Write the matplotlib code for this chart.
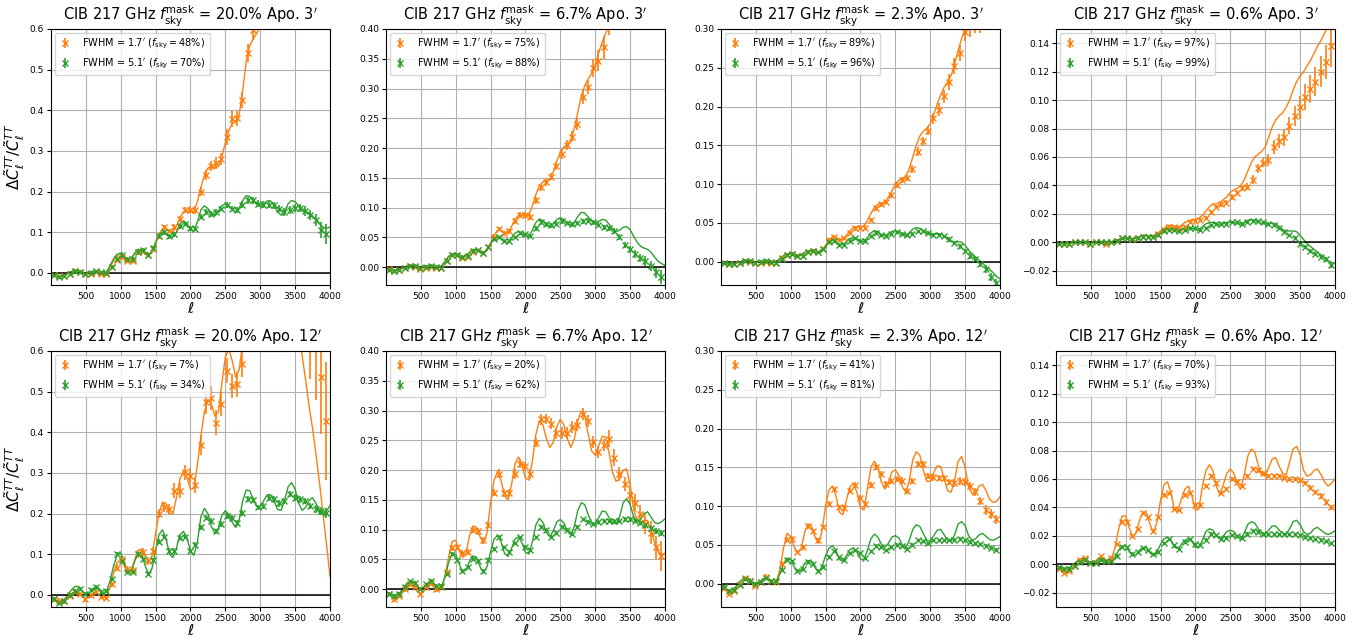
import matplotlib
matplotlib.use("Agg")
import matplotlib.pyplot as plt
import numpy as np

nan = np.nan

# bin centres of the measured points and the sampling of the model curves
ELL_BIN = [45, 120, 195, 270, 345, 420, 495, 570, 645, 720,
           795, 870, 945, 1020, 1095, 1170, 1245, 1320, 1395, 1470,
           1545, 1620, 1695, 1770, 1845, 1920, 1995, 2070, 2145, 2220,
           2295, 2370, 2445, 2520, 2595, 2670, 2745, 2820, 2895, 2970,
           3045, 3120, 3195, 3270, 3345, 3420, 3495, 3570, 3645, 3720,
           3795, 3870, 3945]
ELL_LINE = [0, 50, 100, 150, 200, 250, 300, 350, 400, 450,
            500, 550, 600, 650, 700, 750, 800, 850, 900, 950,
            1000, 1050, 1100, 1150, 1200, 1250, 1300, 1350, 1400, 1450,
            1500, 1550, 1600, 1650, 1700, 1750, 1800, 1850, 1900, 1950,
            2000, 2050, 2100, 2150, 2200, 2250, 2300, 2350, 2400, 2450,
            2500, 2550, 2600, 2650, 2700, 2750, 2800, 2850, 2900, 2950,
            3000, 3050, 3100, 3150, 3200, 3250, 3300, 3350, 3400, 3450,
            3500, 3550, 3600, 3650, 3700, 3750, 3800, 3850, 3900, 3950,
            4000]

MASK_FSKY = ["20.0", "6.7", "2.3", "0.6"]
APO = [3, 12]
FSKY_17 = [[48, 75, 89, 97], [7, 20, 41, 70]]
FSKY_51 = [[70, 88, 96, 99], [34, 62, 81, 93]]
YMAX = [0.6, 0.4, 0.3, 0.15]
YTICKS = [[0.0, 0.1, 0.2, 0.3, 0.4, 0.5, 0.6],
          [0.0, 0.05, 0.1, 0.15, 0.2, 0.25, 0.3, 0.35, 0.4],
          [0.0, 0.05, 0.1, 0.15, 0.2, 0.25, 0.3],
          [-0.02, 0.0, 0.02, 0.04, 0.06, 0.08, 0.1, 0.12, 0.14]]

# ---------------- Apo. 3' , fsky mask 20.0% ----------------
P1_OR_PTS = [-0.005, -0.009, -0.007, -0.002, 0.004, 0.002, -0.004, -0.002, 0.002, -0.002,
             -0.002, 0.015, 0.032, 0.038, 0.030, 0.030, 0.050, 0.053, 0.045, 0.058,
             0.090, 0.112, 0.103, 0.113, 0.133, 0.155, 0.155, 0.155, 0.200, 0.240,
             0.263, 0.270, 0.280, 0.335, 0.378, 0.380, 0.425, 0.540, 0.598, nan,
             nan, nan, nan, nan, nan, nan, nan, nan, nan, nan,
             nan, nan, nan]
P1_OR_ERR = [0.004, 0.004, 0.004, 0.004, 0.004, 0.004, 0.004, 0.004, 0.004, 0.004,
             0.004, 0.004, 0.005, 0.005, 0.005, 0.005, 0.005, 0.005, 0.005, 0.006,
             0.006, 0.006, 0.006, 0.007, 0.008, 0.008, 0.009, 0.010, 0.010, 0.012,
             0.012, 0.014, 0.015, 0.020, 0.020, 0.018, 0.020, 0.022, 0.025, 0.030,
             0.030, 0.030, 0.030, 0.030, 0.030, 0.030, 0.030, 0.030, 0.030, 0.030,
             0.030, 0.030, 0.030]
P1_OR_LINE = [-0.005, -0.007, -0.010, -0.008, -0.005, 0.000, 0.003, 0.005, 0.003, 0.000,
              -0.003, -0.002, 0.002, 0.003, 0.000, -0.003, 0.002, 0.015, 0.030, 0.042,
              0.040, 0.032, 0.028, 0.035, 0.048, 0.055, 0.053, 0.045, 0.043, 0.050,
              0.070, 0.095, 0.108, 0.110, 0.100, 0.100, 0.115, 0.135, 0.150, 0.152,
              0.150, 0.152, 0.175, 0.210, 0.240, 0.258, 0.262, 0.258, 0.262, 0.285,
              0.320, 0.350, 0.368, 0.370, 0.390, 0.450, 0.520, 0.560, 0.575, 0.590,
              0.605, 0.640, nan, nan, nan, nan, nan, nan, nan, nan,
              nan, nan, nan, nan, nan, nan, nan, nan, nan, nan,
              nan]
P1_GR_PTS = [-0.005, -0.010, -0.009, -0.002, 0.005, 0.003, -0.002, 0.000, 0.004, 0.001,
             -0.001, 0.015, 0.035, 0.045, 0.035, 0.033, 0.050, 0.057, 0.045, 0.060,
             0.090, 0.100, 0.090, 0.095, 0.115, 0.120, 0.110, 0.108, 0.138, 0.150,
             0.145, 0.150, 0.158, 0.167, 0.158, 0.155, 0.168, 0.178, 0.178, 0.170,
             0.168, 0.168, 0.166, 0.158, 0.150, 0.155, 0.160, 0.160, 0.152, 0.142,
             0.130, 0.105, 0.095]
P1_GR_ERR = [0.004, 0.004, 0.004, 0.004, 0.004, 0.004, 0.004, 0.004, 0.004, 0.004,
             0.004, 0.004, 0.004, 0.005, 0.005, 0.005, 0.005, 0.005, 0.005, 0.005,
             0.005, 0.006, 0.006, 0.006, 0.006, 0.006, 0.006, 0.006, 0.006, 0.007,
             0.007, 0.007, 0.007, 0.007, 0.007, 0.008, 0.008, 0.008, 0.008, 0.008,
             0.008, 0.008, 0.009, 0.009, 0.010, 0.010, 0.010, 0.010, 0.012, 0.012,
             0.015, 0.020, 0.025]
P1_GR_LINE = [-0.005, -0.008, -0.010, -0.010, -0.006, 0.000, 0.004, 0.006, 0.004, 0.000,
              -0.002, 0.000, 0.004, 0.004, 0.000, -0.002, 0.003, 0.018, 0.035, 0.046,
              0.047, 0.038, 0.029, 0.033, 0.048, 0.058, 0.056, 0.047, 0.042, 0.052,
              0.075, 0.095, 0.100, 0.095, 0.087, 0.088, 0.100, 0.120, 0.128, 0.122,
              0.105, 0.103, 0.125, 0.155, 0.165, 0.158, 0.145, 0.140, 0.150, 0.165,
              0.170, 0.165, 0.155, 0.150, 0.160, 0.178, 0.190, 0.188, 0.178, 0.168,
              0.165, 0.170, 0.177, 0.177, 0.165, 0.150, 0.142, 0.150, 0.170, 0.178,
              0.175, 0.165, 0.152, 0.150, 0.148, 0.140, 0.130, 0.120, 0.112, 0.110,
              0.112]

# ---------------- Apo. 3' , fsky mask 6.7% ----------------
P2_OR_PTS = [-0.003, -0.006, -0.005, -0.002, 0.002, 0.001, -0.003, -0.001, 0.001, -0.002,
             -0.002, 0.010, 0.020, 0.020, 0.016, 0.017, 0.026, 0.028, 0.024, 0.034,
             0.051, 0.064, 0.057, 0.060, 0.077, 0.087, 0.088, 0.085, 0.112, 0.134,
             0.143, 0.152, 0.170, 0.190, 0.205, 0.219, 0.241, 0.286, 0.302, 0.334,
             0.347, 0.369, 0.420, nan, nan, nan, nan, nan, nan, nan,
             nan, nan, nan]
P2_OR_ERR = [0.003, 0.003, 0.003, 0.003, 0.003, 0.003, 0.003, 0.003, 0.003, 0.003,
             0.003, 0.003, 0.003, 0.003, 0.003, 0.003, 0.003, 0.003, 0.003, 0.004,
             0.004, 0.004, 0.004, 0.004, 0.005, 0.005, 0.005, 0.005, 0.006, 0.006,
             0.006, 0.006, 0.007, 0.008, 0.008, 0.009, 0.010, 0.012, 0.012, 0.015,
             0.018, 0.020, 0.030, 0.030, 0.030, 0.030, 0.030, 0.030, 0.030, 0.030,
             0.030, 0.030, 0.030]
P2_OR_LINE = [-0.003, -0.004, -0.006, -0.006, -0.004, -0.001, 0.001, 0.002, 0.001, -0.001,
              -0.002, -0.001, 0.001, 0.001, -0.001, -0.002, 0.002, 0.010, 0.018, 0.021,
              0.020, 0.017, 0.016, 0.019, 0.025, 0.029, 0.029, 0.026, 0.025, 0.029,
              0.040, 0.053, 0.062, 0.062, 0.057, 0.059, 0.068, 0.080, 0.087, 0.088,
              0.086, 0.088, 0.103, 0.122, 0.137, 0.143, 0.145, 0.148, 0.160, 0.178,
              0.193, 0.202, 0.206, 0.213, 0.233, 0.260, 0.287, 0.305, 0.316, 0.326,
              0.340, 0.360, 0.378, 0.393, 0.405, nan, nan, nan, nan, nan,
              nan, nan, nan, nan, nan, nan, nan, nan, nan, nan,
              nan]
P2_GR_PTS = [-0.004, -0.006, -0.005, -0.002, 0.002, 0.002, -0.002, 0.000, 0.002, 0.000,
             -0.001, 0.010, 0.020, 0.021, 0.017, 0.018, 0.027, 0.028, 0.024, 0.033,
             0.048, 0.050, 0.044, 0.044, 0.050, 0.058, 0.055, 0.053, 0.065, 0.075,
             0.072, 0.070, 0.073, 0.077, 0.074, 0.072, 0.074, 0.077, 0.078, 0.075,
             0.071, 0.067, 0.065, 0.060, 0.050, 0.037, 0.030, 0.022, 0.015, 0.010,
             0.002, -0.009, -0.017]
P2_GR_ERR = [0.003, 0.003, 0.003, 0.003, 0.003, 0.003, 0.003, 0.003, 0.003, 0.003,
             0.003, 0.003, 0.003, 0.003, 0.003, 0.003, 0.003, 0.003, 0.003, 0.003,
             0.003, 0.003, 0.003, 0.003, 0.003, 0.003, 0.003, 0.003, 0.004, 0.004,
             0.004, 0.004, 0.004, 0.004, 0.004, 0.004, 0.004, 0.004, 0.004, 0.004,
             0.004, 0.004, 0.004, 0.005, 0.005, 0.005, 0.006, 0.006, 0.007, 0.008,
             0.008, 0.010, 0.012]
P2_GR_LINE = [-0.003, -0.005, -0.006, -0.006, -0.004, -0.001, 0.002, 0.003, 0.002, 0.000,
              -0.001, 0.000, 0.002, 0.002, 0.000, -0.001, 0.002, 0.010, 0.018, 0.022,
              0.021, 0.017, 0.015, 0.018, 0.025, 0.030, 0.029, 0.025, 0.023, 0.028,
              0.040, 0.050, 0.052, 0.048, 0.042, 0.042, 0.049, 0.057, 0.060, 0.057,
              0.052, 0.052, 0.062, 0.075, 0.081, 0.078, 0.072, 0.069, 0.073, 0.080,
              0.083, 0.080, 0.074, 0.071, 0.075, 0.085, 0.092, 0.091, 0.084, 0.077,
              0.075, 0.077, 0.080, 0.079, 0.072, 0.064, 0.060, 0.062, 0.067, 0.068,
              0.063, 0.052, 0.042, 0.035, 0.032, 0.030, 0.025, 0.017, 0.010, 0.006,
              0.003]

# ---------------- Apo. 3' , fsky mask 2.3% ----------------
P3_OR_PTS = [-0.002, -0.003, -0.003, -0.001, 0.001, 0.000, -0.001, -0.001, 0.000, -0.001,
             -0.001, 0.005, 0.009, 0.010, 0.008, 0.008, 0.012, 0.014, 0.012, 0.017,
             0.028, 0.032, 0.028, 0.030, 0.037, 0.043, 0.044, 0.044, 0.054, 0.069,
             0.074, 0.077, 0.086, 0.099, 0.105, 0.108, 0.120, 0.142, 0.155, 0.169,
             0.185, 0.196, 0.213, 0.232, 0.252, 0.269, 0.296, 0.310, 0.320, 0.325,
             nan, nan, nan]
P3_OR_ERR = [0.002, 0.002, 0.002, 0.002, 0.002, 0.002, 0.002, 0.002, 0.002, 0.002,
             0.002, 0.002, 0.002, 0.002, 0.002, 0.002, 0.002, 0.002, 0.002, 0.002,
             0.002, 0.002, 0.002, 0.002, 0.002, 0.003, 0.003, 0.003, 0.003, 0.003,
             0.003, 0.003, 0.004, 0.004, 0.004, 0.004, 0.005, 0.006, 0.006, 0.006,
             0.007, 0.008, 0.009, 0.010, 0.010, 0.010, 0.012, 0.020, 0.025, 0.030,
             0.030, 0.030, 0.030]
P3_OR_LINE = [-0.002, -0.002, -0.003, -0.003, -0.002, -0.001, 0.000, 0.001, 0.000, -0.001,
              -0.001, -0.001, 0.000, 0.000, -0.001, -0.001, 0.001, 0.004, 0.008, 0.010,
              0.010, 0.008, 0.007, 0.009, 0.012, 0.014, 0.014, 0.013, 0.012, 0.015,
              0.021, 0.028, 0.032, 0.031, 0.028, 0.029, 0.034, 0.040, 0.044, 0.045,
              0.044, 0.046, 0.053, 0.062, 0.070, 0.074, 0.075, 0.077, 0.083, 0.091,
              0.100, 0.105, 0.107, 0.110, 0.120, 0.135, 0.150, 0.162, 0.168, 0.172,
              0.178, 0.190, 0.203, 0.215, 0.225, 0.232, 0.240, 0.255, 0.272, 0.288,
              0.300, 0.312, nan, nan, nan, nan, nan, nan, nan, nan,
              nan]
P3_GR_PTS = [-0.002, -0.003, -0.003, -0.001, 0.001, 0.001, -0.001, 0.000, 0.001, 0.000,
             -0.001, 0.004, 0.009, 0.010, 0.008, 0.008, 0.012, 0.014, 0.012, 0.016,
             0.025, 0.027, 0.022, 0.022, 0.027, 0.030, 0.027, 0.027, 0.033, 0.037,
             0.034, 0.033, 0.036, 0.038, 0.036, 0.034, 0.036, 0.039, 0.039, 0.037,
             0.035, 0.035, 0.033, 0.029, 0.024, 0.020, 0.014, 0.008, 0.003, -0.003,
             -0.009, -0.020, -0.028]
P3_GR_ERR = [0.002, 0.002, 0.002, 0.002, 0.002, 0.002, 0.002, 0.002, 0.002, 0.002,
             0.002, 0.002, 0.002, 0.002, 0.002, 0.002, 0.002, 0.002, 0.002, 0.002,
             0.002, 0.002, 0.002, 0.002, 0.002, 0.002, 0.002, 0.002, 0.002, 0.002,
             0.002, 0.002, 0.002, 0.002, 0.002, 0.002, 0.002, 0.002, 0.002, 0.002,
             0.002, 0.002, 0.002, 0.003, 0.003, 0.003, 0.003, 0.004, 0.004, 0.004,
             0.005, 0.005, 0.006]
P3_GR_LINE = [-0.002, -0.002, -0.003, -0.003, -0.002, -0.001, 0.001, 0.001, 0.001, 0.000,
              -0.001, 0.000, 0.001, 0.001, 0.000, -0.001, 0.001, 0.004, 0.008, 0.010,
              0.010, 0.008, 0.007, 0.008, 0.012, 0.014, 0.014, 0.012, 0.011, 0.014,
              0.020, 0.026, 0.028, 0.026, 0.022, 0.022, 0.026, 0.030, 0.031, 0.029,
              0.026, 0.026, 0.031, 0.037, 0.040, 0.039, 0.035, 0.034, 0.036, 0.039,
              0.040, 0.039, 0.036, 0.034, 0.037, 0.042, 0.044, 0.043, 0.040, 0.036,
              0.035, 0.035, 0.036, 0.036, 0.033, 0.029, 0.026, 0.025, 0.026, 0.025,
              0.021, 0.015, 0.010, 0.006, 0.002, -0.002, -0.006, -0.010, -0.014, -0.019,
              -0.022]

# ---------------- Apo. 3' , fsky mask 0.6% ----------------
P4_OR_PTS = [-0.001, -0.001, -0.001, 0.000, 0.000, 0.000, -0.001, 0.000, 0.000, -0.001,
             0.000, 0.001, 0.003, 0.003, 0.002, 0.003, 0.004, 0.004, 0.004, 0.006,
             0.009, 0.011, 0.011, 0.010, 0.011, 0.014, 0.015, 0.016, 0.017, 0.021,
             0.025, 0.027, 0.028, 0.032, 0.035, 0.038, 0.039, 0.044, 0.052, 0.056,
             0.058, 0.067, 0.071, 0.074, 0.082, 0.089, 0.095, 0.102, 0.108, 0.113,
             0.120, 0.127, 0.138]
P4_OR_ERR = [0.001, 0.001, 0.001, 0.001, 0.001, 0.001, 0.001, 0.001, 0.001, 0.001,
             0.001, 0.001, 0.001, 0.001, 0.001, 0.001, 0.001, 0.001, 0.001, 0.001,
             0.001, 0.001, 0.001, 0.001, 0.001, 0.001, 0.0015, 0.0015, 0.0015, 0.0015,
             0.0015, 0.002, 0.002, 0.002, 0.002, 0.002, 0.0025, 0.003, 0.003, 0.003,
             0.004, 0.005, 0.005, 0.006, 0.006, 0.007, 0.008, 0.009, 0.010, 0.010,
             0.011, 0.012, 0.015]
P4_OR_LINE = [-0.001, -0.001, -0.001, -0.001, -0.001, 0.000, 0.000, 0.000, 0.000, 0.000,
              -0.001, 0.000, 0.000, 0.000, -0.001, 0.000, 0.000, 0.001, 0.002, 0.003,
              0.003, 0.003, 0.002, 0.003, 0.004, 0.005, 0.005, 0.004, 0.005, 0.006,
              0.008, 0.010, 0.012, 0.012, 0.011, 0.011, 0.012, 0.014, 0.015, 0.016,
              0.016, 0.017, 0.019, 0.022, 0.025, 0.027, 0.027, 0.028, 0.030, 0.032,
              0.035, 0.037, 0.038, 0.040, 0.044, 0.050, 0.056, 0.060, 0.062, 0.064,
              0.067, 0.074, 0.081, 0.086, 0.089, 0.091, 0.095, 0.100, 0.107, 0.113,
              0.117, 0.120, 0.124, 0.128, 0.133, 0.138, 0.142, 0.147, 0.152, 0.156,
              0.160]
P4_GR_PTS = [-0.001, -0.001, -0.001, 0.000, 0.000, 0.000, -0.001, 0.000, 0.000, 0.000,
             0.000, 0.001, 0.003, 0.003, 0.002, 0.003, 0.004, 0.004, 0.004, 0.005,
             0.008, 0.009, 0.009, 0.008, 0.009, 0.010, 0.010, 0.009, 0.010, 0.012,
             0.013, 0.013, 0.013, 0.014, 0.014, 0.013, 0.014, 0.015, 0.015, 0.014,
             0.013, 0.012, 0.010, 0.0075, 0.005, 0.003, -0.001, -0.003, -0.006, -0.008,
             -0.010, -0.012, -0.016]
P4_GR_ERR = [0.001, 0.001, 0.001, 0.001, 0.001, 0.001, 0.001, 0.001, 0.001, 0.001,
             0.001, 0.001, 0.001, 0.001, 0.001, 0.001, 0.001, 0.001, 0.001, 0.001,
             0.001, 0.001, 0.001, 0.001, 0.001, 0.001, 0.001, 0.001, 0.001, 0.001,
             0.001, 0.001, 0.001, 0.001, 0.001, 0.001, 0.001, 0.001, 0.001, 0.001,
             0.001, 0.001, 0.001, 0.0012, 0.0012, 0.0013, 0.0013, 0.0014, 0.0015, 0.0015,
             0.0016, 0.0018, 0.002]
P4_GR_LINE = [-0.001, -0.001, -0.001, -0.001, -0.001, 0.000, 0.000, 0.000, 0.000, 0.000,
              -0.001, 0.000, 0.000, 0.000, 0.000, 0.000, 0.000, 0.001, 0.002, 0.003,
              0.003, 0.003, 0.002, 0.003, 0.004, 0.005, 0.005, 0.004, 0.004, 0.005,
              0.007, 0.009, 0.010, 0.009, 0.008, 0.008, 0.009, 0.010, 0.011, 0.010,
              0.009, 0.009, 0.011, 0.013, 0.014, 0.014, 0.013, 0.012, 0.013, 0.014,
              0.0145, 0.014, 0.013, 0.013, 0.014, 0.0155, 0.016, 0.0155, 0.014, 0.013,
              0.013, 0.013, 0.0135, 0.013, 0.011, 0.009, 0.008, 0.008, 0.008, 0.0075,
              0.005, 0.002, -0.001, -0.003, -0.005, -0.007, -0.009, -0.011, -0.013, -0.014,
              -0.015]

# ---------------- Apo. 12' , fsky mask 20.0% ----------------
P5_OR_PTS = [-0.011, -0.015, -0.016, -0.003, 0.006, 0.002, -0.011, -0.001, 0.006, -0.005,
             -0.007, 0.026, 0.067, 0.088, 0.063, 0.061, 0.100, 0.106, 0.084, 0.108,
             0.200, 0.215, 0.211, 0.256, 0.256, 0.301, 0.293, 0.270, 0.369, 0.475,
             0.484, 0.424, 0.469, 0.552, 0.514, 0.518, 0.567, nan, nan, nan,
             nan, nan, nan, nan, nan, nan, nan, nan, nan, 0.680,
             0.650, 0.536, 0.428]
P5_OR_ERR = [0.006, 0.006, 0.006, 0.006, 0.006, 0.006, 0.006, 0.006, 0.006, 0.006,
             0.006, 0.006, 0.008, 0.008, 0.008, 0.008, 0.010, 0.010, 0.010, 0.010,
             0.012, 0.012, 0.012, 0.018, 0.018, 0.018, 0.018, 0.020, 0.025, 0.030,
             0.030, 0.030, 0.030, 0.030, 0.030, 0.030, 0.030, 0.050, 0.050, 0.050,
             0.050, 0.050, 0.050, 0.050, 0.050, 0.050, 0.050, 0.050, 0.050, 0.150,
             0.170, 0.140, 0.145]
P5_OR_LINE = [-0.010, -0.013, -0.016, -0.016, -0.011, -0.003, 0.004, 0.007, 0.003, -0.005,
              -0.010, -0.006, 0.002, 0.005, -0.001, -0.007, -0.003, 0.020, 0.055, 0.080,
              0.085, 0.072, 0.058, 0.060, 0.085, 0.110, 0.112, 0.095, 0.080, 0.095,
              0.150, 0.200, 0.228, 0.225, 0.200, 0.200, 0.240, 0.285, 0.305, 0.290,
              0.260, 0.262, 0.320, 0.390, 0.450, 0.480, 0.470, 0.440, 0.450, 0.520,
              0.585, 0.605, 0.575, 0.535, 0.555, 0.620, 0.680, nan, nan, nan,
              nan, nan, nan, nan, nan, nan, nan, nan, nan, nan,
              nan, 0.650, 0.590, 0.530, 0.465, 0.410, 0.345, 0.275, 0.200, 0.125,
              0.045]
P5_GR_PTS = [-0.011, -0.019, -0.016, 0.000, 0.010, 0.014, 0.002, 0.011, 0.018, 0.006,
             0.010, 0.039, 0.100, 0.084, 0.055, 0.057, 0.100, 0.088, 0.052, 0.085,
             0.131, 0.143, 0.108, 0.108, 0.141, 0.143, 0.108, 0.123, 0.166, 0.190,
             0.182, 0.156, 0.175, 0.194, 0.189, 0.176, 0.202, 0.235, 0.233, 0.215,
             0.219, 0.239, 0.235, 0.225, 0.231, 0.248, 0.239, 0.235, 0.231, 0.219,
             0.211, 0.207, 0.202]
P5_GR_ERR = [0.005, 0.005, 0.005, 0.005, 0.005, 0.005, 0.005, 0.005, 0.005, 0.005,
             0.005, 0.005, 0.005, 0.005, 0.005, 0.005, 0.005, 0.005, 0.005, 0.005,
             0.006, 0.006, 0.006, 0.006, 0.006, 0.006, 0.006, 0.006, 0.006, 0.006,
             0.007, 0.007, 0.007, 0.007, 0.007, 0.007, 0.007, 0.007, 0.007, 0.007,
             0.008, 0.008, 0.008, 0.008, 0.008, 0.008, 0.008, 0.008, 0.008, 0.008,
             0.010, 0.010, 0.012]
P5_GR_LINE = [-0.008, -0.013, -0.018, -0.018, -0.010, 0.002, 0.013, 0.021, 0.020, 0.010,
              0.001, 0.004, 0.014, 0.020, 0.014, 0.004, 0.010, 0.035, 0.072, 0.098,
              0.103, 0.080, 0.052, 0.055, 0.082, 0.102, 0.100, 0.072, 0.050, 0.065,
              0.110, 0.148, 0.160, 0.138, 0.100, 0.092, 0.115, 0.148, 0.156, 0.140,
              0.108, 0.097, 0.130, 0.192, 0.213, 0.200, 0.168, 0.151, 0.165, 0.195,
              0.207, 0.198, 0.178, 0.166, 0.185, 0.232, 0.258, 0.256, 0.235, 0.217,
              0.217, 0.232, 0.246, 0.246, 0.230, 0.210, 0.208, 0.232, 0.266, 0.276,
              0.260, 0.225, 0.208, 0.215, 0.232, 0.239, 0.225, 0.204, 0.198, 0.206,
              0.220]

# ---------------- Apo. 12' , fsky mask 6.7% ----------------
P6_OR_PTS = [-0.008, -0.017, -0.011, 0.000, 0.008, 0.003, -0.008, 0.003, 0.011, 0.000,
             0.003, 0.028, 0.069, 0.070, 0.060, 0.063, 0.100, 0.097, 0.082, 0.108,
             0.162, 0.194, 0.161, 0.162, 0.193, 0.211, 0.206, 0.193, 0.246, 0.285,
             0.286, 0.278, 0.262, 0.262, 0.262, 0.273, 0.276, 0.294, 0.283, 0.247,
             0.231, 0.242, 0.253, 0.221, 0.193, 0.177, 0.158, 0.144, 0.127, 0.110,
             0.095, 0.070, 0.056]
P6_OR_ERR = [0.004, 0.004, 0.004, 0.004, 0.004, 0.004, 0.004, 0.004, 0.004, 0.004,
             0.004, 0.004, 0.005, 0.005, 0.005, 0.005, 0.006, 0.006, 0.006, 0.006,
             0.006, 0.007, 0.007, 0.007, 0.008, 0.008, 0.008, 0.008, 0.008, 0.009,
             0.009, 0.009, 0.009, 0.010, 0.010, 0.010, 0.010, 0.010, 0.010, 0.010,
             0.010, 0.010, 0.015, 0.015, 0.012, 0.012, 0.015, 0.015, 0.015, 0.018,
             0.020, 0.020, 0.025]
P6_OR_LINE = [-0.006, -0.009, -0.014, -0.015, -0.010, -0.001, 0.006, 0.008, 0.004, -0.004,
              -0.008, -0.003, 0.005, 0.008, 0.002, -0.003, 0.002, 0.022, 0.055, 0.080,
              0.082, 0.065, 0.053, 0.062, 0.090, 0.106, 0.104, 0.088, 0.077, 0.095,
              0.145, 0.183, 0.197, 0.183, 0.157, 0.150, 0.175, 0.210, 0.222, 0.210,
              0.186, 0.183, 0.215, 0.260, 0.283, 0.276, 0.253, 0.238, 0.247, 0.273,
              0.285, 0.276, 0.253, 0.238, 0.252, 0.283, 0.299, 0.291, 0.260, 0.232,
              0.225, 0.240, 0.257, 0.255, 0.228, 0.195, 0.181, 0.185, 0.200, 0.202,
              0.175, 0.135, 0.115, 0.112, 0.116, 0.115, 0.100, 0.078, 0.063, 0.058,
              0.060]
P6_GR_PTS = [-0.008, -0.011, -0.008, 0.003, 0.013, 0.010, 0.000, 0.008, 0.014, 0.006,
             0.006, 0.025, 0.059, 0.049, 0.031, 0.037, 0.051, 0.048, 0.031, 0.049,
             0.068, 0.088, 0.070, 0.062, 0.077, 0.087, 0.071, 0.066, 0.087, 0.104,
             0.100, 0.088, 0.094, 0.104, 0.100, 0.093, 0.105, 0.117, 0.113, 0.110,
             0.113, 0.115, 0.115, 0.114, 0.115, 0.117, 0.117, 0.115, 0.111, 0.107,
             0.102, 0.097, 0.094]
P6_GR_ERR = [0.003, 0.003, 0.003, 0.003, 0.003, 0.003, 0.003, 0.003, 0.003, 0.003,
             0.003, 0.003, 0.003, 0.003, 0.003, 0.003, 0.003, 0.003, 0.003, 0.003,
             0.003, 0.003, 0.003, 0.003, 0.003, 0.003, 0.003, 0.003, 0.003, 0.003,
             0.003, 0.003, 0.003, 0.003, 0.003, 0.003, 0.003, 0.003, 0.003, 0.003,
             0.003, 0.003, 0.003, 0.003, 0.004, 0.004, 0.004, 0.004, 0.004, 0.004,
             0.004, 0.005, 0.005]
P6_GR_LINE = [-0.006, -0.008, -0.010, -0.010, -0.006, 0.002, 0.010, 0.013, 0.011, 0.004,
              -0.001, 0.003, 0.010, 0.013, 0.008, 0.002, 0.005, 0.022, 0.045, 0.060,
              0.058, 0.042, 0.029, 0.032, 0.047, 0.056, 0.053, 0.038, 0.027, 0.038,
              0.062, 0.084, 0.090, 0.080, 0.060, 0.055, 0.068, 0.084, 0.088, 0.078,
              0.062, 0.059, 0.080, 0.108, 0.119, 0.112, 0.095, 0.088, 0.098, 0.113,
              0.117, 0.111, 0.097, 0.091, 0.105, 0.132, 0.145, 0.142, 0.125, 0.111,
              0.110, 0.120, 0.131, 0.130, 0.120, 0.111, 0.110, 0.122, 0.145, 0.152,
              0.142, 0.122, 0.113, 0.117, 0.127, 0.130, 0.121, 0.112, 0.110, 0.113,
              0.118]

# ---------------- Apo. 12' , fsky mask 2.3% ----------------
P7_OR_PTS = [-0.006, -0.013, -0.009, 0.000, 0.007, 0.004, -0.003, 0.002, 0.009, 0.003,
             0.002, 0.026, 0.057, 0.058, 0.041, 0.047, 0.074, 0.068, 0.056, 0.073,
             0.103, 0.122, 0.099, 0.098, 0.120, 0.127, 0.111, 0.103, 0.127, 0.150,
             0.141, 0.128, 0.132, 0.135, 0.133, 0.120, 0.132, 0.154, 0.154, 0.139,
             0.137, 0.136, 0.136, 0.131, 0.130, 0.132, 0.131, 0.126, 0.118, 0.107,
             0.095, 0.090, 0.083]
P7_OR_ERR = [0.003, 0.003, 0.003, 0.003, 0.003, 0.003, 0.003, 0.003, 0.003, 0.003,
             0.003, 0.003, 0.003, 0.003, 0.003, 0.003, 0.003, 0.003, 0.003, 0.003,
             0.003, 0.003, 0.003, 0.003, 0.003, 0.004, 0.004, 0.004, 0.004, 0.004,
             0.004, 0.004, 0.004, 0.004, 0.004, 0.004, 0.004, 0.004, 0.004, 0.004,
             0.004, 0.004, 0.004, 0.004, 0.005, 0.005, 0.005, 0.005, 0.005, 0.005,
             0.006, 0.006, 0.006]
P7_OR_LINE = [-0.005, -0.007, -0.011, -0.011, -0.007, -0.001, 0.005, 0.007, 0.005, -0.001,
              -0.003, 0.000, 0.006, 0.008, 0.004, 0.000, 0.004, 0.020, 0.047, 0.065,
              0.061, 0.048, 0.039, 0.045, 0.066, 0.077, 0.074, 0.060, 0.052, 0.068,
              0.100, 0.121, 0.126, 0.113, 0.092, 0.089, 0.108, 0.125, 0.129, 0.118,
              0.098, 0.095, 0.122, 0.150, 0.158, 0.150, 0.131, 0.122, 0.130, 0.144,
              0.147, 0.140, 0.125, 0.118, 0.133, 0.160, 0.170, 0.166, 0.147, 0.132,
              0.132, 0.143, 0.152, 0.151, 0.135, 0.120, 0.118, 0.133, 0.158, 0.164,
              0.150, 0.125, 0.116, 0.118, 0.126, 0.128, 0.120, 0.109, 0.105, 0.106,
              0.112]
P7_GR_PTS = [-0.004, -0.009, -0.008, -0.002, 0.006, 0.004, 0.000, 0.002, 0.008, 0.003,
             0.003, 0.018, 0.031, 0.029, 0.017, 0.019, 0.028, 0.026, 0.017, 0.022,
             0.035, 0.042, 0.034, 0.031, 0.039, 0.043, 0.039, 0.033, 0.042, 0.049,
             0.047, 0.043, 0.047, 0.050, 0.048, 0.045, 0.050, 0.056, 0.055, 0.052,
             0.056, 0.056, 0.056, 0.056, 0.057, 0.058, 0.056, 0.054, 0.052, 0.051,
             0.049, 0.046, 0.044]
P7_GR_ERR = [0.002, 0.002, 0.002, 0.002, 0.002, 0.002, 0.002, 0.002, 0.002, 0.002,
             0.002, 0.002, 0.002, 0.002, 0.002, 0.002, 0.002, 0.002, 0.002, 0.002,
             0.002, 0.002, 0.002, 0.002, 0.002, 0.002, 0.002, 0.002, 0.002, 0.002,
             0.002, 0.002, 0.002, 0.002, 0.002, 0.002, 0.002, 0.002, 0.002, 0.002,
             0.002, 0.002, 0.002, 0.002, 0.002, 0.002, 0.002, 0.002, 0.002, 0.002,
             0.002, 0.002, 0.002]
P7_GR_LINE = [-0.004, -0.006, -0.008, -0.008, -0.005, 0.000, 0.005, 0.007, 0.006, 0.002,
              0.000, 0.002, 0.006, 0.008, 0.005, 0.001, 0.004, 0.013, 0.026, 0.033,
              0.031, 0.022, 0.015, 0.017, 0.026, 0.030, 0.029, 0.021, 0.015, 0.022,
              0.036, 0.046, 0.049, 0.043, 0.031, 0.029, 0.036, 0.044, 0.046, 0.041,
              0.032, 0.031, 0.043, 0.058, 0.064, 0.060, 0.051, 0.047, 0.052, 0.060,
              0.062, 0.059, 0.050, 0.047, 0.056, 0.070, 0.076, 0.074, 0.065, 0.056,
              0.055, 0.062, 0.069, 0.070, 0.063, 0.056, 0.055, 0.063, 0.077, 0.080,
              0.075, 0.062, 0.056, 0.058, 0.063, 0.065, 0.061, 0.057, 0.056, 0.058,
              0.061]

# ---------------- Apo. 12' , fsky mask 0.6% ----------------
P8_OR_PTS = [-0.003, -0.006, -0.005, -0.001, 0.003, 0.0045, 0.001, 0.001, 0.0056, 0.0024,
             0.0047, 0.014, 0.030, 0.030, 0.020, 0.0245, 0.036, 0.033, 0.0235, 0.033,
             0.049, 0.050, 0.039, 0.038, 0.049, 0.050, 0.042, 0.042, 0.055, 0.062,
             0.057, 0.050, 0.053, 0.060, 0.058, 0.055, 0.062, 0.067, 0.066, 0.064,
             0.062, 0.062, 0.062, 0.061, 0.060, 0.060, 0.059, 0.057, 0.054, 0.051,
             0.048, 0.044, 0.040]
P8_OR_ERR = [0.001, 0.001, 0.001, 0.001, 0.001, 0.001, 0.001, 0.001, 0.001, 0.001,
             0.001, 0.001, 0.001, 0.001, 0.001, 0.001, 0.001, 0.001, 0.001, 0.001,
             0.0012, 0.0012, 0.0012, 0.0012, 0.0012, 0.0012, 0.0012, 0.0012, 0.0012, 0.0012,
             0.0015, 0.0015, 0.0015, 0.0015, 0.0015, 0.0015, 0.0015, 0.0015, 0.0015, 0.0015,
             0.0015, 0.0015, 0.0015, 0.0015, 0.0015, 0.0015, 0.0015, 0.0015, 0.0015, 0.0015,
             0.002, 0.002, 0.002]
P8_OR_LINE = [-0.002, -0.003, -0.005, -0.006, -0.005, -0.002, 0.002, 0.004, 0.004, 0.002,
              0.000, 0.001, 0.004, 0.005, 0.003, 0.002, 0.004, 0.012, 0.025, 0.034,
              0.034, 0.026, 0.019, 0.022, 0.031, 0.037, 0.036, 0.028, 0.022, 0.030,
              0.045, 0.056, 0.058, 0.050, 0.038, 0.038, 0.046, 0.053, 0.055, 0.048,
              0.038, 0.039, 0.055, 0.066, 0.070, 0.066, 0.055, 0.049, 0.056, 0.064,
              0.067, 0.064, 0.056, 0.053, 0.063, 0.076, 0.081, 0.079, 0.070, 0.063,
              0.062, 0.068, 0.074, 0.075, 0.069, 0.064, 0.063, 0.072, 0.081, 0.083,
              0.077, 0.066, 0.062, 0.063, 0.066, 0.067, 0.063, 0.058, 0.055, 0.057,
              0.060]
P8_GR_PTS = [-0.002, -0.003, -0.003, -0.0015, 0.0016, 0.003, 0.001, 0.001, 0.003, 0.002,
             0.002, 0.006, 0.012, 0.012, 0.0075, 0.0087, 0.0115, 0.010, 0.007, 0.009,
             0.015, 0.0176, 0.0134, 0.011, 0.0158, 0.0176, 0.014, 0.0134, 0.0174, 0.0216,
             0.0205, 0.0176, 0.0188, 0.0205, 0.0198, 0.0186, 0.0216, 0.0235, 0.0228, 0.0215,
             0.021, 0.021, 0.021, 0.021, 0.021, 0.0213, 0.0205, 0.0195, 0.0185, 0.0176,
             0.0172, 0.0163, 0.015]
P8_GR_ERR = [0.001, 0.001, 0.001, 0.001, 0.001, 0.001, 0.001, 0.001, 0.001, 0.001,
             0.001, 0.001, 0.001, 0.001, 0.001, 0.001, 0.001, 0.001, 0.001, 0.001,
             0.001, 0.001, 0.001, 0.001, 0.001, 0.001, 0.001, 0.001, 0.001, 0.001,
             0.001, 0.001, 0.001, 0.001, 0.001, 0.001, 0.001, 0.001, 0.001, 0.001,
             0.001, 0.001, 0.001, 0.001, 0.001, 0.001, 0.001, 0.001, 0.001, 0.001,
             0.001, 0.001, 0.001]
P8_GR_LINE = [-0.002, -0.002, -0.003, -0.003, -0.002, 0.000, 0.002, 0.003, 0.003, 0.002,
              0.001, 0.001, 0.003, 0.004, 0.002, 0.001, 0.002, 0.005, 0.010, 0.013,
              0.013, 0.009, 0.006, 0.007, 0.010, 0.012, 0.012, 0.008, 0.006, 0.009,
              0.014, 0.018, 0.019, 0.017, 0.012, 0.011, 0.014, 0.017, 0.018, 0.016,
              0.012, 0.012, 0.017, 0.023, 0.025, 0.024, 0.020, 0.018, 0.020, 0.023,
              0.024, 0.023, 0.019, 0.018, 0.022, 0.028, 0.030, 0.029, 0.025, 0.022,
              0.021, 0.024, 0.027, 0.027, 0.024, 0.022, 0.021, 0.025, 0.030, 0.031,
              0.028, 0.023, 0.021, 0.022, 0.025, 0.026, 0.024, 0.022, 0.021, 0.022,
              0.0235]

C_ORANGE = "#ff7f0e"
C_GREEN = "#2ca02c"

# (row, col) -> series
PANEL_DATA = {
    (0, 0): (P1_OR_PTS, P1_OR_ERR, P1_OR_LINE, P1_GR_PTS, P1_GR_ERR, P1_GR_LINE),
    (0, 1): (P2_OR_PTS, P2_OR_ERR, P2_OR_LINE, P2_GR_PTS, P2_GR_ERR, P2_GR_LINE),
    (0, 2): (P3_OR_PTS, P3_OR_ERR, P3_OR_LINE, P3_GR_PTS, P3_GR_ERR, P3_GR_LINE),
    (0, 3): (P4_OR_PTS, P4_OR_ERR, P4_OR_LINE, P4_GR_PTS, P4_GR_ERR, P4_GR_LINE),
    (1, 0): (P5_OR_PTS, P5_OR_ERR, P5_OR_LINE, P5_GR_PTS, P5_GR_ERR, P5_GR_LINE),
    (1, 1): (P6_OR_PTS, P6_OR_ERR, P6_OR_LINE, P6_GR_PTS, P6_GR_ERR, P6_GR_LINE),
    (1, 2): (P7_OR_PTS, P7_OR_ERR, P7_OR_LINE, P7_GR_PTS, P7_GR_ERR, P7_GR_LINE),
    (1, 3): (P8_OR_PTS, P8_OR_ERR, P8_OR_LINE, P8_GR_PTS, P8_GR_ERR, P8_GR_LINE),
}

for key, arrs in PANEL_DATA.items():
    for i, a in enumerate(arrs):
        want = len(ELL_LINE) if i in (2, 5) else len(ELL_BIN)
        if len(a) != want:
            raise ValueError(f"panel {key} array {i}: {len(a)} != {want}")


def draw_panel(ax, row, col):
    or_pts, or_err, or_line, gr_pts, gr_err, gr_line = PANEL_DATA[(row, col)]
    series = [
        ("1.7", FSKY_17[row][col], or_pts, or_err, or_line, C_ORANGE),
        ("5.1", FSKY_51[row][col], gr_pts, gr_err, gr_line, C_GREEN),
    ]
    for fwhm, fsky, pts, err, line, color in series:
        label = rf"FWHM = {fwhm}$'$ ($f_{{\rm sky}} = {fsky}\%$)"
        ax.errorbar(ELL_BIN, pts, yerr=err, fmt="x", color=color, ms=4.5,
                    mew=1.0, elinewidth=1.2, capsize=0, label=label)
        ax.plot(ELL_LINE, line, color=color, lw=1.0)

    ax.axhline(0, color="k", lw=1.1)
    ax.set_xlim(2, 4000)
    ax.set_ylim(-0.03, YMAX[col])
    ax.set_xticks([500, 1000, 1500, 2000, 2500, 3000, 3500, 4000])
    ax.set_yticks(YTICKS[col])
    ax.grid(True, color="#b0b0b0", lw=0.8)
    ax.set_axisbelow(True)
    ax.tick_params(labelsize=6.5, length=3, pad=2)
    ax.set_xlabel(r"$\ell$", fontsize=11, labelpad=0)
    if col == 0:
        ax.set_ylabel(r"$\Delta\tilde{C}_\ell^{TT}/\tilde{C}_\ell^{TT}$", fontsize=11, labelpad=2)
    ax.set_title(rf"CIB 217 GHz $f_{{\rm sky}}^{{\rm mask}}$ = {MASK_FSKY[col]}% Apo. {APO[row]}$'$",
                 fontsize=10.5, pad=4)
    ax.legend(loc="upper left", fontsize=7.0, borderaxespad=0.4, handlelength=1.2,
              handletextpad=1.2, labelspacing=0.55)


def main():
    fig = plt.figure(figsize=(13.72, 6.36), dpi=100)
    W, H = 1372.0, 636.0
    lefts = [51, 386, 721, 1056]
    tops = [29, 351]
    aw, ah = 279, 256
    for row in range(2):
        for col in range(4):
            ax = fig.add_axes([lefts[col] / W, 1 - (tops[row] + ah) / H, aw / W, ah / H])
            draw_panel(ax, row, col)
    fig.savefig("out.png", dpi=100)
    plt.close(fig)


if __name__ == "__main__":
    main()
